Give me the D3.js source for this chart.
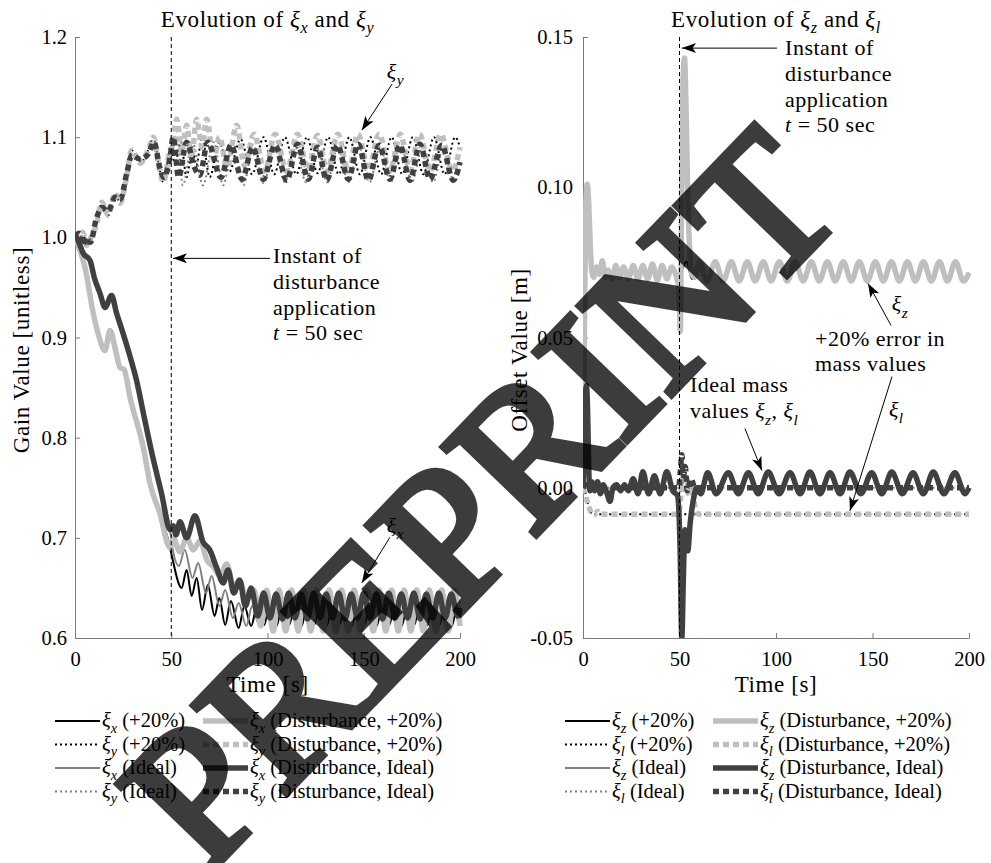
<!DOCTYPE html>
<html>
<head>
<meta charset="utf-8">
<script src="https://cdn.jsdelivr.net/npm/d3@7"></script>
<style>
  body { margin: 0; background: #ffffff; }
  text { font-family: 'Liberation Serif', 'Times New Roman', serif; fill: #000; }
</style>
</head>
<body>
<div id="chart"></div>
<script>
// ---- data: left panel (xi_x, xi_y), [time s, gain] ----
const xiXPreP20 = [[0,1.0],[2,0.99],[5.2,0.97],[9.5,0.924],[12,0.904],[15.6,0.887],[18.2,0.907],[21,0.888],[23.4,0.87],[25.5,0.868],[28.6,0.84],[35.5,0.79],[39,0.754],[44,0.725],[49.4,0.69]]
const xiXPreIdeal = [[0,1.004],[2,0.995],[4.3,0.984],[7.8,0.977],[10,0.96],[13,0.944],[15.6,0.93],[19,0.942],[21.5,0.925],[24,0.91],[28,0.885],[32,0.857],[36,0.82],[40,0.784],[45,0.744],[49.4,0.708]]
const xiXPostP20 = [[50.2,0.683],[55.4,0.65],[58,0.668],[60.6,0.642],[63.2,0.66],[66,0.628],[69,0.653],[72.5,0.622],[75,0.64],[78,0.613],[81,0.637],[85,0.61],[88,0.632],[91.5,0.612],[95,0.636],[98.3,0.613],[101.5,0.638],[104.8,0.612],[108,0.638],[111.3,0.613],[114.5,0.638],[117.8,0.612],[121,0.638],[124.3,0.613],[127.5,0.638],[130.8,0.612],[134,0.638],[137.3,0.613],[140.5,0.638],[143.8,0.612],[147,0.638],[150.3,0.613],[153.5,0.638],[156.8,0.612],[160,0.638],[163.3,0.613],[166.5,0.638],[169.8,0.612],[173,0.638],[176.3,0.613],[179.5,0.638],[182.8,0.612],[186,0.638],[189.3,0.613],[192.5,0.638],[195.8,0.612],[199,0.638],[200,0.635]]
const xiXPostIdeal = [[50.2,0.695],[54,0.672],[57,0.688],[61,0.66],[64,0.675],[68,0.645],[71,0.662],[75,0.632],[78,0.648],[82,0.62],[85,0.635],[89,0.612],[92,0.632],[95.5,0.614],[98.8,0.636],[102,0.614],[105.3,0.636],[108.5,0.614],[111.8,0.636],[115,0.614],[118.3,0.636],[121.5,0.614],[124.8,0.636],[128,0.614],[131.3,0.636],[134.5,0.614],[137.8,0.636],[141,0.614],[144.3,0.636],[147.5,0.614],[150.8,0.636],[154,0.614],[157.3,0.636],[160.5,0.614],[163.8,0.636],[167,0.614],[170.3,0.636],[173.5,0.614],[176.8,0.636],[180,0.614],[183.3,0.636],[186.5,0.614],[189.8,0.636],[193,0.614],[196.3,0.636],[199.5,0.614],[200,0.616]]
const xiXPostDistP20 = [[51,0.7],[54.5,0.686],[58,0.7],[61.5,0.688],[65,0.697],[68.5,0.678],[71.9,0.671],[75.3,0.662],[78.8,0.674],[82.3,0.652],[85.7,0.657],[89,0.638],[93,0.648],[96.5,0.612],[99.5,0.648],[103,0.607],[106,0.648],[109.5,0.607],[112.5,0.648],[116,0.607],[119,0.648],[122.5,0.607],[125.5,0.648],[129,0.607],[132,0.648],[135.5,0.607],[138.5,0.648],[142,0.607],[145,0.648],[148.5,0.607],[151.5,0.648],[155,0.607],[158,0.648],[161.5,0.607],[164.5,0.648],[168,0.607],[171,0.648],[174.5,0.607],[177.5,0.648],[181,0.607],[184,0.648],[187.5,0.607],[190.5,0.648],[194,0.607],[197,0.648],[200,0.612]]
const xiXPostDistIdeal = [[51,0.712],[52.5,0.703],[54.5,0.716],[58,0.70],[62.3,0.722],[66.5,0.696],[70,0.688],[73.6,0.67],[77,0.655],[79.5,0.668],[82.5,0.645],[85.5,0.658],[88.5,0.632],[91.5,0.65],[95,0.622],[98,0.645],[101.3,0.62],[104.5,0.644],[107.8,0.619],[111,0.645],[114.3,0.62],[117.5,0.644],[120.8,0.619],[124,0.645],[127.3,0.62],[130.5,0.644],[133.8,0.62],[137,0.645],[140.3,0.619],[143.5,0.644],[146.8,0.62],[150,0.645],[153.3,0.62],[156.5,0.644],[159.8,0.619],[163,0.645],[166.3,0.62],[169.5,0.644],[172.8,0.62],[176,0.645],[179.3,0.619],[182.5,0.644],[185.8,0.62],[189,0.645],[192.3,0.62],[195.5,0.644],[198.8,0.622],[200,0.63]]

const xiYPreP20 = [[0,1.0],[2,0.993],[4,1.005],[6,0.992],[7.8,0.998],[11.3,1.014],[13.9,1.035],[17.3,1.022],[20.8,1.044],[23.4,1.034],[26.8,1.06],[29.4,1.087],[33.8,1.074],[38,1.087],[40.7,1.1],[44,1.067],[45.9,1.055],[49.4,1.087]]
const xiYPreIdeal = [[0,1.0],[2,1.004],[4,0.992],[6,1.0],[8,0.995],[11,1.018],[14,1.03],[17,1.026],[21,1.04],[23.5,1.038],[27,1.065],[29.5,1.082],[34,1.078],[38,1.083],[41,1.095],[44,1.07],[46,1.06],[49.4,1.08]]
const xiYPostP20 = [[52,1.075],[55,1.095],[58,1.06],[61,1.09],[63,1.072],[66,1.1],[70,1.06],[75,1.095],[80,1.065],[86,1.098],[92,1.063],[98,1.1],[103.5,1.063],[109,1.1],[115,1.063],[120.5,1.1],[126,1.064],[131.5,1.1],[137,1.063],[142.5,1.1],[148,1.063],[153.5,1.1],[159,1.063],[164.5,1.1],[170,1.063],[175.5,1.1],[181,1.063],[186.5,1.1],[192,1.063],[197.5,1.1],[200,1.09]]
const xiYPostIdeal = [[53,1.1],[56,1.052],[61,1.095],[66.5,1.052],[72,1.095],[77,1.052],[82,1.095],[87.5,1.052],[92.5,1.092],[98,1.054],[103.5,1.09],[109,1.055],[114.5,1.09],[120,1.055],[125.5,1.09],[131,1.055],[136.5,1.09],[142,1.055],[147.5,1.09],[153,1.055],[158.5,1.09],[164,1.055],[169.5,1.09],[175,1.055],[180.5,1.09],[186,1.055],[191.5,1.09],[197,1.055],[200,1.07]]
const xiYPostDistP20 = [[50.5,1.09],[52.8,1.118],[55.5,1.085],[58,1.112],[60.5,1.08],[63.2,1.118],[66,1.09],[68.4,1.118],[72,1.078],[75,1.1],[79,1.07],[84,1.112],[88,1.072],[93,1.103],[98.5,1.066],[104,1.103],[110,1.066],[115.5,1.103],[121,1.068],[126,1.102],[131,1.066],[136.5,1.103],[142,1.066],[147,1.103],[152.5,1.067],[158,1.103],[163.5,1.066],[169,1.103],[174,1.067],[179,1.103],[184.5,1.066],[190,1.103],[196,1.066],[200,1.09]]
const xiYPostDistIdeal = [[51,1.1],[53.8,1.06],[58,1.095],[62,1.07],[64.8,1.062],[69,1.095],[75.8,1.06],[81,1.092],[86.8,1.058],[92.3,1.09],[97.8,1.058],[103.9,1.092],[110,1.057],[115.6,1.093],[121.2,1.058],[126,1.09],[130.7,1.057],[136.4,1.092],[142,1.058],[147.2,1.093],[152.4,1.057],[158,1.092],[163.6,1.058],[168.8,1.092],[174,1.057],[179.2,1.093],[184.4,1.058],[190.5,1.092],[196.5,1.057],[200,1.075]]

// ---- data: right panel (xi_z, xi_l), [time s, offset m] ----
const xiZPreP20 = [[0,0.0],[0.7,0.05],[1.5,0.095],[2.2,0.101],[3,0.094],[3.8,0.08],[4.6,0.072],[5.5,0.07],[7,0.0735],[8.5,0.071],[10,0.0755],[11.5,0.07],[13,0.0725],[15,0.0695],[17,0.074],[19,0.07],[21,0.0735],[23.5,0.0695],[26,0.074],[28.5,0.0695],[31,0.074],[33.5,0.0695],[36,0.0745],[38.5,0.069],[41,0.074],[43.5,0.0695],[46,0.0735],[48.5,0.07]]
const xiZPostP20 = [[51.5,0.073],[53.7,0.0752],[56.5,0.0695]]
const xiZPostDistP20 = [[49.8,0.066],[50.4,0.052],[51,0.09],[51.8,0.135],[52.6,0.143],[53.4,0.126],[54.3,0.096],[55.3,0.079],[56.5,0.071],[58,0.07]]
const xiZSteadyP20 = [[60.2,0.0752],[64.3,0.0688],[68.5,0.0752],[72.6,0.0688],[76.8,0.0752],[80.9,0.0688],[85.1,0.0752],[89.2,0.0688],[93.4,0.0752],[97.5,0.0688],[101.7,0.0752],[105.8,0.0688],[110,0.0752],[114.1,0.0688],[118.3,0.0752],[122.4,0.0688],[126.6,0.0752],[130.7,0.0688],[134.9,0.0752],[139,0.0688],[143.2,0.0752],[147.3,0.0688],[151.5,0.0752],[155.6,0.0688],[159.8,0.0752],[163.9,0.0688],[168.1,0.0752],[172.2,0.0688],[176.4,0.0752],[180.5,0.0688],[184.7,0.0752],[188.8,0.0688],[193,0.0752],[197.1,0.0688],[200,0.0715]]
const xiZPreIdeal = [[0,0.0],[0.5,0.012],[1.2,0.03],[1.8,0.034],[2.4,0.025],[3,0.006],[3.6,-0.001],[4.5,0.002],[6,-0.001],[7.5,0.002],[9,-0.002],[10.5,0.001],[12,-0.001],[14,-0.0045],[15.5,0.0],[17.5,0.001],[19.5,-0.001],[21.5,0.001],[23.5,-0.001],[26,0.003],[28.5,-0.002],[31,0.0053],[34,-0.002],[37,0.004],[40,-0.002],[43.4,0.0053],[46.5,-0.001],[49,-0.0027]]
const xiZPostIdeal = [[53.5,0.004],[58,-0.002]]
const xiZPostDistIdeal = [[50.3,-0.02],[51.2,-0.05],[52,-0.03],[52.8,-0.014],[54.3,-0.021],[55.5,-0.012],[57,-0.0047],[59,0.0]]
const xiZSteadyIdeal = [[61,-0.002],[64.6,0.005],[69,-0.002],[75.3,0.005],[80.5,-0.002],[85.7,0.005],[90.8,-0.002],[96,0.0052],[101.6,-0.002],[107.3,0.005],[112.5,-0.002],[117.6,0.0052],[122.8,-0.002],[128,0.005],[133.2,-0.002],[138.3,0.0052],[144,-0.002],[149.6,0.005],[154.8,-0.002],[160,0.0052],[165.5,-0.002],[171,0.005],[176.3,-0.002],[181.5,0.0052],[187,-0.002],[192.7,0.005],[198,-0.002],[200,0.0]]
const xiLP20 = [[0,0.0],[1,-0.0012],[2,-0.004],[3,-0.0065],[4,-0.0081],[5.5,-0.0088],[20,-0.0088],[50,-0.0088],[100,-0.0088],[150,-0.0088],[200,-0.0088]]
const xiLIdeal = [[0,0.0],[2,0.0005],[5,0.0],[50,0.0],[100,0.0],[150,0.0],[200,0.0]]
const xiLDistP20 = [[0,0.0],[1.5,-0.003],[3,-0.0062],[4.5,-0.0085],[6,-0.0089],[7.5,-0.0078],[9,-0.0088],[49.5,-0.0088],[50.5,-0.004],[51.5,0.003],[52.5,-0.002],[53.5,0.004],[55,-0.003],[56.5,0.0015],[58,-0.006],[60,-0.0088],[100,-0.0088],[150,-0.0088],[200,-0.0088]]
const xiLDistIdeal = [[0,0.0],[2,0.001],[5,0.0],[49.5,0.0],[50.5,0.006],[51.2,0.011],[52,0.004],[53,0.007],[54,-0.001],[56,0.003],[58,0.0],[100,0.0],[150,0.0],[200,0.0]]

// ---- ticks ----
const timeTicks = [0, 50, 100, 150, 200]
const gainTicks = [0.6, 0.7, 0.8, 0.9, 1.0, 1.1, 1.2]
const gainTickLabels = ['0.6', '0.7', '0.8', '0.9', '1.0', '1.1', '1.2']
const offsetTicks = [-0.05, 0, 0.05, 0.1, 0.15]
const offsetTickLabels = ['-0.05', '0.00', '0.05', '0.10', '0.15']
const DISTURBANCE_T = 50

// ---- styles ----
const STYLE = {
  thinBlack: { color: '#000000', width: 2 },
  thinBlackDot: { color: '#000000', width: 2, dash: '2,3' },
  thinGray: { color: '#808080', width: 2 },
  thinGrayDot: { color: '#808080', width: 2, dash: '2,3' },
  thickLight: { color: '#bfbfbf', width: 5.5 },
  thickLightDot: { color: '#bfbfbf', width: 5.5, dash: '6,4' },
  thickDark: { color: '#404040', width: 5.5 },
  thickDarkDot: { color: '#404040', width: 5.5, dash: '6,4' },
}

const leftSeries = [
  { label: 'ξ_x (+20%)', data: xiXPreP20.concat(xiXPostP20), style: 'thinBlack' },
  { label: 'ξ_y (+20%)', data: xiYPreP20.concat(xiYPostP20), style: 'thinBlackDot' },
  { label: 'ξ_x (Ideal)', data: xiXPreIdeal.concat(xiXPostIdeal), style: 'thinGray' },
  { label: 'ξ_y (Ideal)', data: xiYPreIdeal.concat(xiYPostIdeal), style: 'thinGrayDot' },
  { label: 'ξ_x (Disturbance, +20%)', data: xiXPreP20.concat(xiXPostDistP20), style: 'thickLight' },
  { label: 'ξ_y (Disturbance, +20%)', data: xiYPreP20.concat(xiYPostDistP20), style: 'thickLightDot' },
  { label: 'ξ_x (Disturbance, Ideal)', data: xiXPreIdeal.concat(xiXPostDistIdeal), style: 'thickDark' },
  { label: 'ξ_y (Disturbance, Ideal)', data: xiYPreIdeal.concat(xiYPostDistIdeal), style: 'thickDarkDot' },
]

const rightSeries = [
  { label: 'ξ_z (+20%)', data: xiZPreP20.concat(xiZPostP20, xiZSteadyP20), style: 'thinBlack' },
  { label: 'ξ_l (+20%)', data: xiLP20, style: 'thinBlackDot' },
  { label: 'ξ_z (Ideal)', data: xiZPreIdeal.concat(xiZPostIdeal, xiZSteadyIdeal), style: 'thinGray' },
  { label: 'ξ_l (Ideal)', data: xiLIdeal, style: 'thinGrayDot' },
  { label: 'ξ_z (Disturbance, +20%)', data: xiZPreP20.concat(xiZPostDistP20, xiZSteadyP20), style: 'thickLight' },
  { label: 'ξ_l (Disturbance, +20%)', data: xiLDistP20, style: 'thickLightDot' },
  { label: 'ξ_z (Disturbance, Ideal)', data: xiZPreIdeal.concat(xiZPostDistIdeal, xiZSteadyIdeal), style: 'thickDark' },
  { label: 'ξ_l (Disturbance, Ideal)', data: xiLDistIdeal, style: 'thickDarkDot' },
]

// ---- layout ----
const W = 991
const H = 863
const PLOT_TOP = 37
const PLOT_BOTTOM = 638
const TICK_FONT = 20.5
const LABEL_FONT = 23
const TITLE_FONT = 23
const NOTE_FONT = 22
const LEGEND_FONT = 20.5
const LEGEND_ROWS = [721, 744.5, 768, 791.5]

const svg = d3.select('#chart').append('svg').attr('width', W).attr('height', H)
svg.append('rect').attr('width', W).attr('height', H).attr('fill', '#ffffff')

svg
  .append('defs')
  .append('marker')
  .attr('id', 'head')
  .attr('viewBox', '-1 -6 16 12')
  .attr('refX', 14)
  .attr('refY', 0)
  .attr('markerWidth', 16)
  .attr('markerHeight', 12)
  .attr('markerUnits', 'userSpaceOnUse')
  .attr('orient', 'auto')
  .append('path')
  .attr('d', 'M0,-5 L14,0 L0,5 L3.5,0 Z')
  .attr('fill', '#000')

// text with italic xi and subscripts: 'ξ_x' and '$t' tokens
const mathText = (sel, str, size) => {
  const sub = size * 0.28
  let down = false
  str.split(/(ξ_[a-z]|\$[a-z])/).forEach((p) => {
    if (!p) return
    if (p.startsWith('ξ_')) {
      sel.append('tspan').attr('font-style', 'italic').attr('dy', down ? -sub : null).text('ξ')
      sel
        .append('tspan')
        .attr('font-style', 'italic')
        .attr('font-size', size * 0.7)
        .attr('dy', sub)
        .text(p[2])
      down = true
    } else if (p.startsWith('$')) {
      sel.append('tspan').attr('font-style', 'italic').attr('dy', down ? -sub : null).text(p[1])
      down = false
    } else {
      sel.append('tspan').attr('dy', down ? -sub : null).text(p)
      down = false
    }
  })
}

const drawPanel = (cfg) => {
  const { x, y, series, yTicks, yTickLabels, yTickRight, title, yLabel, yLabelX, notes, arrows, legendX } = cfg
  const g = svg.append('g')

  // axes
  const yAxis = d3
    .axisLeft(y)
    .tickValues(yTicks)
    .tickFormat((d, i) => yTickLabels[i])
    .tickSizeInner(-5)
    .tickSizeOuter(0)
    .tickPadding(x.range()[0] - yTickRight)
  const xAxis = d3.axisBottom(x).tickValues(timeTicks).tickFormat(d3.format('d')).tickSizeInner(-5).tickSizeOuter(0).tickPadding(13.5)

  const ya = g.append('g').attr('transform', `translate(${x.range()[0]},0)`).call(yAxis)
  const xa = g.append('g').attr('transform', `translate(0,${PLOT_BOTTOM})`).call(xAxis)
  ;[ya, xa].forEach((a) => {
    a.attr('font-family', null)
    a.select('.domain').attr('stroke', '#7a7a7a')
    a.selectAll('.tick line').attr('stroke', '#7a7a7a')
    a.selectAll('.tick text').attr('font-size', TICK_FONT).attr('fill', '#000')
  })

  // series
  const line = d3
    .line()
    .x((d) => x(d[0]))
    .y((d) => y(d[1]))
    .curve(d3.curveMonotoneX)
  const clip = `clip-${yLabelX}`
  g.append('clipPath').attr('id', clip).append('rect')
    .attr('x', x.range()[0]).attr('y', PLOT_TOP - 3)
    .attr('width', x.range()[1] - x.range()[0] + 4).attr('height', PLOT_BOTTOM - PLOT_TOP + 3)
  const lines = g.append('g').attr('clip-path', `url(#${clip})`)
  series.forEach((s) => {
    const st = STYLE[s.style]
    lines
      .append('path')
      .datum(s.data)
      .attr('d', line)
      .attr('fill', 'none')
      .attr('stroke', st.color)
      .attr('stroke-width', st.width)
      .attr('stroke-dasharray', st.dash || null)
      .attr('stroke-linejoin', 'round')
  })

  // disturbance marker line
  g.append('line')
    .attr('x1', x(DISTURBANCE_T)).attr('x2', x(DISTURBANCE_T))
    .attr('y1', PLOT_TOP).attr('y2', PLOT_BOTTOM)
    .attr('stroke', '#000').attr('stroke-width', 1).attr('stroke-dasharray', '4,3')

  // title and axis labels
  const cx = (x.range()[0] + x.range()[1]) / 2
  const tt = g.append('text').attr('x', cx).attr('y', 27).attr('text-anchor', 'middle')
    .attr('font-size', TITLE_FONT).attr('letter-spacing', 0.6)
  mathText(tt, title, TITLE_FONT)
  g.append('text')
    .attr('transform', `translate(${yLabelX},350) rotate(-90)`)
    .attr('text-anchor', 'middle')
    .attr('font-size', LABEL_FONT)
    .attr('letter-spacing', 0.6)
    .text(yLabel)
  g.append('text').attr('x', cx).attr('y', 692).attr('text-anchor', 'middle')
    .attr('font-size', LABEL_FONT).attr('letter-spacing', 0.6).text('Time [s]')

  // annotations
  arrows.forEach((a) => {
    g.append('line')
      .attr('x1', x(a.from[0])).attr('y1', y(a.from[1]))
      .attr('x2', x(a.to[0])).attr('y2', y(a.to[1]))
      .attr('stroke', '#000').attr('stroke-width', 1)
      .attr('marker-end', 'url(#head)')
  })
  notes.forEach((n) => {
    n.lines.forEach((ln, i) => {
      const t = g.append('text')
        .attr('x', x(n.at[0]))
        .attr('y', y(n.at[1]) + i * n.gap)
        .attr('font-size', NOTE_FONT)
        .attr('letter-spacing', 0.5)
      mathText(t, ln, NOTE_FONT)
    })
  })

  // legend: two columns of four
  series.forEach((s, i) => {
    const col = Math.floor(i / 4)
    const row = i % 4
    const x0 = legendX[col]
    const ry = LEGEND_ROWS[row]
    const st = STYLE[s.style]
    g.append('line')
      .attr('x1', x0).attr('x2', x0 + 45).attr('y1', ry).attr('y2', ry)
      .attr('stroke', st.color).attr('stroke-width', st.width)
      .attr('stroke-dasharray', st.dash || null)
    mathText(g.append('text').attr('x', x0 + 47).attr('y', ry + 6).attr('font-size', LEGEND_FONT), s.label, LEGEND_FONT)
  })
}

const leftX = d3.scaleLinear().domain([0, 200]).range([75, 460])
const leftY = d3.scaleLinear().domain([0.6, 1.2]).range([PLOT_BOTTOM, PLOT_TOP])
const rightX = d3.scaleLinear().domain([0, 200]).range([583, 969])
const rightY = d3.scaleLinear().domain([-0.05, 0.15]).range([PLOT_BOTTOM, PLOT_TOP])

drawPanel({
  x: leftX,
  y: leftY,
  series: leftSeries,
  yTicks: gainTicks,
  yTickLabels: gainTickLabels,
  yTickRight: 67,
  title: 'Evolution of ξ_x and ξ_y',
  yLabel: 'Gain Value [unitless]',
  yLabelX: 29,
  legendX: [55, 203],
  arrows: [
    { from: [164.7, 1.153], to: [149, 1.107] },
    { from: [101.3, 0.979], to: [50.9, 0.979] },
    { from: [163.6, 0.7006], to: [149, 0.655] },
  ],
  notes: [
    { at: [162, 1.158], gap: 0, lines: ['ξ_y'] },
    { at: [102.9, 0.974], gap: 25.7, lines: ['Instant of', 'disturbance', 'application', '$t = 50 sec'] },
    { at: [162, 0.705], gap: 0, lines: ['ξ_x'] },
  ],
})

drawPanel({
  x: rightX,
  y: rightY,
  series: rightSeries,
  yTicks: offsetTicks,
  yTickLabels: offsetTickLabels,
  yTickRight: 573,
  title: 'Evolution of ξ_z and ξ_l',
  yLabel: 'Offset Value [m]',
  yLabelX: 527,
  legendX: [565, 713],
  arrows: [
    { from: [100.5, 0.1463], to: [51.3, 0.1463] },
    { from: [159.6, 0.054], to: [147.7, 0.068] },
    { from: [160.1, 0.037], to: [138.3, -0.0077] },
    { from: [83.9, 0.0197], to: [92.7, 0.0057] },
  ],
  notes: [
    { at: [104.7, 0.144], gap: 25.8, lines: ['Instant of', 'disturbance', 'application', '$t = 50 sec'] },
    { at: [160, 0.0587], gap: 0, lines: ['ξ_z'] },
    { at: [120.2, 0.0473], gap: 25, lines: ['+20% error in', 'mass values'] },
    { at: [158.5, 0.0237], gap: 0, lines: ['ξ_l'] },
    { at: [55.4, 0.0317], gap: 26, lines: ['Ideal mass', 'values ξ_z, ξ_l'] },
  ],
})

// watermark (fill + stroke composited as one layer)
svg
  .append('g')
  .attr('opacity', 0.76)
  .append('text')
  .attr('transform', 'translate(206,877) rotate(-46)')
  .attr('font-family', 'Liberation Sans, Arial, sans-serif')
  .attr('font-size', 196)
  .attr('fill', '#000')
  .attr('stroke', '#000')
  .attr('stroke-width', 7)
  .attr('stroke-linejoin', 'miter')
  .text('PREPRINT')
</script>
</body>
</html>
